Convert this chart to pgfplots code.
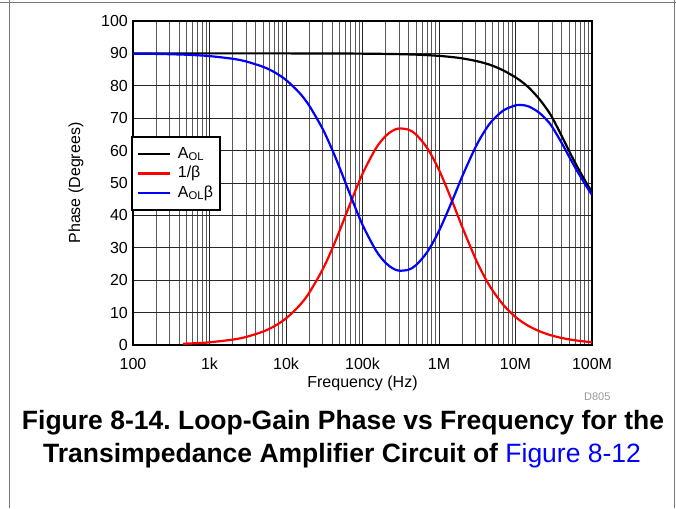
\documentclass[border=0pt]{standalone}
\usepackage{fontspec}
\setmainfont{Liberation Sans}
\usepackage{pgfplots}
\pgfplotsset{compat=1.18}
\frenchspacing

\definecolor{frameg}{RGB}{120,120,120}

% loop-gain phase data
\pgfplotstableread{
f       ph
100     90.0
10000   90.0
100000  89.92
300000  89.77
500000  89.62
700000  89.47
1e6     89.24
1.5e6   88.85
2e6     88.47
3e6     87.7
4e6     86.95
5e6     86.2
7e6     84.7
1e7     82.6
1.2e7   81.3
1.5e7   79.4
2e7     76.2
2.5e7   73.2
3e7     70.3
4e7     64.6
5e7     59.95
6e7     56.3
7e7     53.4
8.5e7   49.9
1e8     47.2
}\aol
\pgfplotstableread{
f       ph
450     0.37
700     0.58
1000    0.83
2000    1.65
3000    2.48
5000    4.13
7000    5.77
10000   8.2
15000   12.19
20000   16.04
30000   23.23
40000   29.62
50000   35.18
70000   43.99
100000  52.82
150000  60.73
200000  64.47
250000  66.19
300000  66.83
400000  66.46
500000  64.98
700000  60.82
1e6     54.03
1.5e6   44.14
2e6     36.58
3e6     26.65
4e6     20.72
5e6     16.88
7e6     12.26
1e7     8.65
1.2e7   7.23
1.5e7   5.80
2e7     4.36
2.5e7   3.49
3e7     2.90
4e7     2.18
5e7     1.74
6e7     1.46
7e7     1.25
8.5e7   1.02
1e8     0.87
}\invbeta
\pgfplotstableread{
f       ph
100     89.92
200     89.84
300     89.75
500     89.59
700     89.42
1000    89.17
2000    88.35
3000    87.52
5000    85.87
7000    84.24
10000   81.8
15000   77.81
20000   73.96
30000   66.77
40000   60.38
50000   54.82
70000   46.01
100000  37.10
150000  29.16
200000  25.38
250000  23.62
300000  22.94
400000  23.24
500000  24.64
700000  28.65
1e6     35.21
1.5e6   44.71
2e6     51.89
3e6     61.05
4e6     66.23
5e6     69.32
7e6     72.44
1e7     73.95
1.2e7   74.07
1.5e7   73.6
2e7     71.84
2.5e7   69.71
3e7     67.4
4e7     62.42
5e7     58.21
6e7     54.84
7e7     52.15
8.5e7   48.88
1e8     46.33
}\loopgain

\begin{document}
\begin{tikzpicture}[x=1pt,y=1pt]
\path[use as bounding box] (0,0) rectangle (676,508);
% page frame
\draw[frameg, line width=1.3pt] (0,505.5) -- (676,505.5);
\draw[frameg, line width=1.3pt] (9.5,0) -- (9.5,508);
\draw[frameg, line width=1.3pt] (674.3,0) -- (674.3,508);

\begin{axis}[
 at={(133pt,163pt)}, anchor=south west,
 scale only axis,
 width=459pt, height=324pt,
 xmode=log,
 xmin=100, xmax=1e8,
 ymin=0, ymax=100,
 xtick={1e2,1e3,1e4,1e5,1e6,1e7,1e8},
 xticklabels={100,1k,10k,100k,1M,10M,100M},
 minor xtick={200,300,400,500,600,700,800,900,
  2000,3000,4000,5000,6000,7000,8000,9000,
  20000,30000,40000,50000,60000,70000,80000,90000,
  2e5,3e5,4e5,5e5,6e5,7e5,8e5,9e5,
  2e6,3e6,4e6,5e6,6e6,7e6,8e6,9e6,
  2e7,3e7,4e7,5e7,6e7,7e7,8e7,9e7},
 ytick={0,10,...,100},
 /pgf/number format/assume math mode=true,
 major tick length=0pt, minor tick length=0pt,
 xmajorgrids, xminorgrids, ymajorgrids,
 major grid style={black!85, line width=0.9pt},
 minor grid style={black!65, line width=0.9pt},
 axis line style={black, line width=2.4pt},
 tick label style={font=\fontsize{16}{16}\selectfont},
 yticklabel style={inner sep=0pt, xshift=-5pt},
 xticklabel style={inner sep=0pt, yshift=-13pt},
 xlabel={Frequency (Hz)},
 ylabel={Phase (Degrees)},
 label style={font=\fontsize{16}{16}\selectfont},
 xlabel style={at={(rel axis cs:0.5,0)}, anchor=center, yshift=-38pt},
 ylabel style={at={(rel axis cs:0,0.5)}, anchor=center, yshift=57pt},
 legend style={at={(-0.004,0.645)}, anchor=north west, draw=black,
  line width=2pt, fill=white, font=\fontsize{16}{16}\selectfont,
  inner xsep=5pt, inner ysep=8pt,
  nodes={inner sep=1.5pt, text height=11.5pt, text depth=3.5pt},
  row sep=1.5pt,
  /tikz/every odd column/.append style={column sep=5pt}},
 legend cell align=left,
 legend image code/.code={\draw[#1, line width=2.2pt] (0pt,0pt) -- (32pt,0pt);},
]
\addplot[black, line width=2.2pt, smooth] table[x=f, y=ph] {\aol};
\addplot[red, line width=2.2pt, smooth] table[x=f, y=ph] {\invbeta};
\addplot[blue, line width=2.2pt, smooth] table[x=f, y=ph] {\loopgain};
\legend{A\textsubscript{OL}, 1/β, A\textsubscript{OL}β}
\end{axis}

\node[anchor=east, text=black!40, font=\fontsize{11}{11}\selectfont] at (614,111) {D805};
\node[anchor=base, font=\bfseries\fontsize{26.5}{30}\selectfont] at (343,78)
 {Figure 8-14. Loop-Gain Phase vs Frequency for the};
\node[anchor=base, font=\bfseries\fontsize{26.5}{30}\selectfont] at (342,45.5)
 {Transimpedance Amplifier Circuit of \textcolor{blue}{\mdseries Figure 8-12}};
\end{tikzpicture}
\end{document}
